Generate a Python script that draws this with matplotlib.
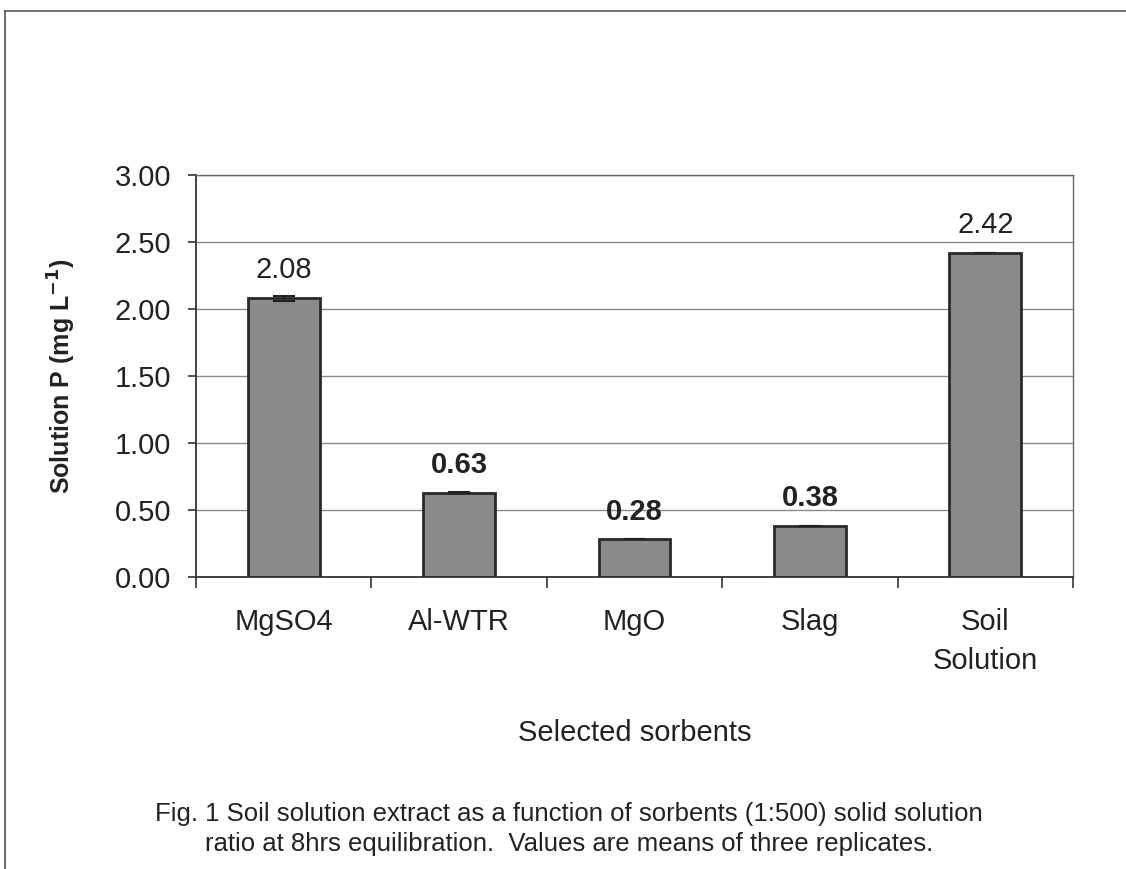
import matplotlib
matplotlib.use("Agg")
import matplotlib.pyplot as plt
import numpy as np
from matplotlib.lines import Line2D
from matplotlib.ticker import FixedLocator, FormatStrFormatter

sorbents = ["MgSO4", "Al-WTR", "MgO", "Slag", "Soil\nSolution"]
solution_p = [2.08, 0.63, 0.28, 0.38, 2.42]
errors = [0.02, 0.005, 0.0, 0.0, 0.0]
bold_labels = [False, True, True, True, False]
y_ticks = [0.0, 0.5, 1.0, 1.5, 2.0, 2.5, 3.0]

caption = ("Fig. 1 Soil solution extract as a function of sorbents (1:500) solid solution\n"
           "ratio at 8hrs equilibration.  Values are means of three replicates.")

plt.rcParams['font.family'] = ['Liberation Sans', 'DejaVu Sans']

fig = plt.figure(figsize=(11.26, 8.69), dpi=100)
ax = fig.add_axes([0.174, 0.336, 0.779, 0.4626])

x = np.arange(len(sorbents))
ax.bar(x, solution_p, width=0.41, color="#8a8a8a", edgecolor="#2a2a2a",
       linewidth=2, zorder=3)
ax.errorbar(x, solution_p, yerr=errors, fmt="none", ecolor="#222222",
            elinewidth=1.5, capsize=8, capthick=1.5, zorder=4)

for xi, v, b in zip(x, solution_p, bold_labels):
    ax.annotate("%.2f" % v, (xi, v), xytext=(0, 10), textcoords="offset points",
                ha="center", va="bottom", fontsize=21,
                fontweight="bold" if b else "normal", color="#222222", zorder=5)

ax.set_xlim(-0.5, len(sorbents) - 0.5)
ax.set_ylim(0, 3.0)
ax.yaxis.set_major_locator(FixedLocator(y_ticks))
ax.yaxis.set_major_formatter(FormatStrFormatter("%.2f"))
ax.grid(axis="y", color="#8a8a8a", linewidth=1, zorder=0)

ax.set_xticks(x)
ax.set_xticklabels(sorbents, fontsize=21, color="#222222", linespacing=1.5)
ax.set_xticks(np.arange(-0.5, len(sorbents)), minor=True)
ax.tick_params(axis="x", which="major", length=0, pad=22)
ax.tick_params(axis="x", which="minor", length=8, width=1.2, color="#333333")
ax.tick_params(axis="y", labelsize=21, labelcolor="#222222", length=6,
               width=1.2, color="#333333", pad=12)

for side in ["left", "bottom"]:
    ax.spines[side].set_color("#333333")
    ax.spines[side].set_linewidth(1.3)
for side in ["top", "right"]:
    ax.spines[side].set_color("#666666")
    ax.spines[side].set_linewidth(1)

ax.set_ylabel("Solution P (mg L$^{\\mathbf{-1}}$)", fontsize=18,
              fontweight="bold", color="#222222", labelpad=26)
ax.set_xlabel("Selected sorbents", fontsize=21, color="#222222", labelpad=32)

fig.text(0.505, 0.015, caption, ha="center", va="bottom", fontsize=18.5,
         color="#222222", linespacing=1.3)

# page frame from the scan
fig.add_artist(Line2D([0.004, 1.0], [0.987, 0.987], color="#555555", linewidth=1.2))
fig.add_artist(Line2D([0.004, 0.004], [0.0, 0.987], color="#555555", linewidth=1.2))

fig.savefig("out.png", dpi=100, facecolor="white")
